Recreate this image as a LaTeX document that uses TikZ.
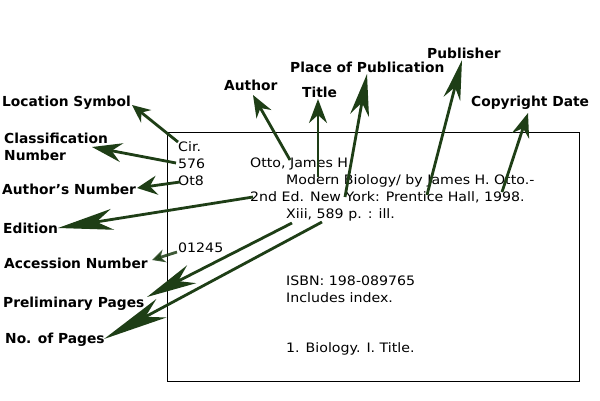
\documentclass[tikz,border=0pt]{standalone}
\usepackage{fontspec}
\setmainfont{DejaVu Sans}
\newfontfamily\cardfont[FakeStretch=1.09]{DejaVu Sans}
\usetikzlibrary{arrows.meta}
\definecolor{arr}{RGB}{30,62,22}
\begin{document}
\begin{tikzpicture}[x=1pt,y=-1pt,
  card/.style={anchor=west,inner sep=0pt,font=\cardfont\fontsize{13}{15}\selectfont},
  lab/.style={anchor=west,inner sep=0pt,font=\fontsize{13.8}{17}\selectfont\bfseries,align=left},
  ptr/.style n args={3}{draw=arr,line width=2.8pt,-{Stealth[length=#1pt,width=#2pt,inset=#3pt]}}]
\useasboundingbox (0,0) rectangle (600,400);
\fill[white] (0,0) rectangle (600,400);
% card
\node[draw,line width=0.9pt,minimum width=412pt,minimum height=249pt,anchor=north west,inner sep=0pt] (box) at (167,132) {};
\node[card] (cir) at (178,147) {Cir.};
\node[card] (n576) at (178,163.5) {576};
\node[card] (ot8) at (178,180.5) {Ot8};
\node[card] (otto) at (250,163.5) {Otto, James H.};
\node[card] (modern) at (286,180.5) {Modern Biology/ by James H. Otto.-};
\node[card] (ed) at (250,197.5) {2nd Ed. New York: Prentice Hall, 1998.};
\node[card] (xiii) at (286,214.5) {Xiii, 589 p. : ill.};
\node[card] (acc) at (178,248) {01245};
\node[card] (isbn) at (286,281) {ISBN: 198-089765};
\node[card] (incl) at (286,298) {Includes index.};
\node[card] (subj) at (286,349) {1. Biology. I. Title.};
% labels
\node[lab] (locsym) at (2,103) {Location Symbol};
\node[lab] (classnum) at (4,146.5) {Classification\\Number};
\node[lab] (authnum) at (2,189) {Author’s Number};
\node[lab] (edition) at (3,228) {Edition};
\node[lab] (accnum) at (4,263) {Accession Number};
\node[lab] (prelim) at (3,304) {Preliminary Pages};
\node[lab] (nopages) at (5,340) {No. of Pages};
\node[lab] (author) at (224,85) {Author};
\node[lab] (title) at (302,92) {Title};
\node[lab] (place) at (290,67) {Place of Publication};
\node[lab] (publisher) at (427,53) {Publisher};
\node[lab] (copyright) at (471,103) {Copyright Date};
% tails
\coordinate (sLoc) at (178,142);
\coordinate (sCls) at (176,163);
\coordinate (sAn) at (180,182);
\coordinate (sEd) at (253,197);
\coordinate (sAcc) at (177,252);
\coordinate (sPre) at (292,223);
\coordinate (sNo) at (322,222);
\coordinate (sAu) at (290,160);
\coordinate (sTi) at (318,177);
\coordinate (sPl) at (345,197);
\coordinate (sPu) at (427,195);
\coordinate (sCo) at (502,192);
% tips
\coordinate (tLoc) at (132,105);
\coordinate (tCls) at (92,147);
\coordinate (tAn) at (137,188);
\coordinate (tEd) at (58,228);
\coordinate (tAcc) at (152,260);
\coordinate (tPre) at (147,297);
\coordinate (tNo) at (104,339);
\coordinate (tAu) at (253,95);
\coordinate (tTi) at (318,99);
\coordinate (tPl) at (367,74);
\coordinate (tPu) at (462,60);
\coordinate (tCo) at (528,113);
% connectors
\draw[ptr={18}{16}{6}] (sLoc) -- (tLoc);
\draw[ptr={30}{19}{10}] (sCls) -- (tCls);
\draw[ptr={20}{19}{7}] (sAn) -- (tAn);
\draw[ptr={55}{21}{16}] (sEd) -- (tEd);
\draw[ptr={13}{13}{4},opacity=0.85] (sAcc) -- (tAcc);
\draw[ptr={50}{20}{15}] (sPre) -- (tPre);
\draw[ptr={65}{21}{18}] (sNo) -- (tNo);
\draw[ptr={22}{17}{7}] (sAu) -- (tAu);
\draw[ptr={24}{18}{8}] (sTi) -- (tTi);
\draw[ptr={42}{19}{13}] (sPl) -- (tPl);
\draw[ptr={40}{17}{12}] (sPu) -- (tPu);
\draw[ptr={24}{18}{8}] (sCo) -- (tCo);
\end{tikzpicture}
\end{document}
